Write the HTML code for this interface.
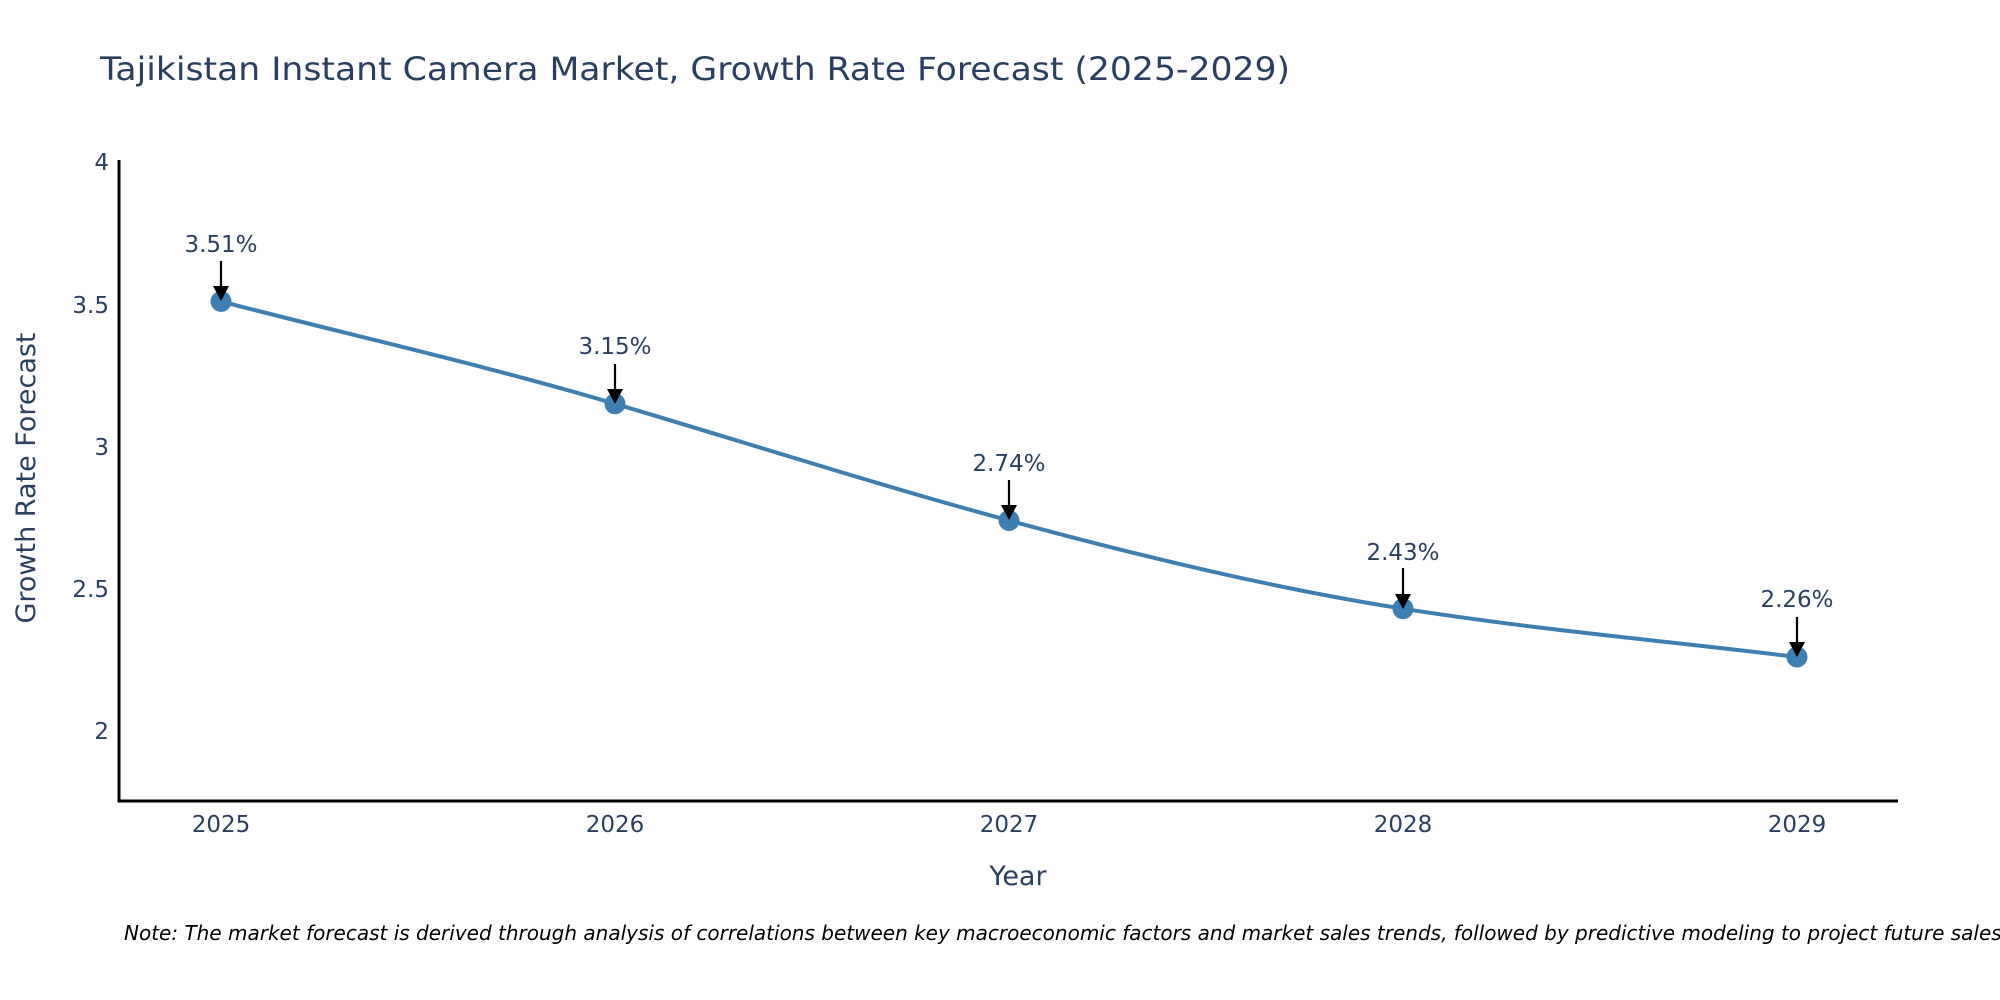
<!DOCTYPE html>
<html><head><meta charset="utf-8"><style>
html,body{margin:0;padding:0;background:#fff;}
svg{display:block;font-family:"DejaVu Sans","Liberation Sans",sans-serif;}
</style></head><body>
<svg width="2000" height="1000" viewBox="0 0 2000 1000" xmlns="http://www.w3.org/2000/svg">
<rect width="2000" height="1000" fill="#fff"/>
<text x="100" y="80" font-size="32" fill="#2a3f5f" textLength="1190" lengthAdjust="spacingAndGlyphs">Tajikistan Instant Camera Market, Growth Rate Forecast (2025-2029)</text>
<!-- axes -->
<line x1="119" y1="160" x2="119" y2="802" stroke="#000" stroke-width="3"/>
<line x1="117.5" y1="801" x2="1898" y2="801" stroke="#000" stroke-width="3"/>
<!-- y ticks -->
<g font-size="23" fill="#2a3f5f" text-anchor="end">
<text x="109" y="170">4</text>
<text x="109" y="313">3.5</text>
<text x="109" y="455">3</text>
<text x="109" y="597">2.5</text>
<text x="109" y="739">2</text>
</g>
<g font-size="23" fill="#2a3f5f" text-anchor="middle">
<text x="221" y="832">2025</text>
<text x="615" y="832">2026</text>
<text x="1009" y="832">2027</text>
<text x="1403" y="832">2028</text>
<text x="1797" y="832">2029</text>
</g>
<text x="1018" y="885" font-size="27" fill="#2a3f5f" text-anchor="middle">Year</text>
<text transform="translate(35,478) rotate(-90)" font-size="27" fill="#2a3f5f" text-anchor="middle">Growth Rate Forecast</text>
<!-- line -->
<path d="M221,301.4 C352,335.5 484,365 615,403.8 C746,442.6 878,485 1009,520.5 C1140,556 1272,588 1403,608.7 C1534,629.4 1666,641 1797,657" fill="none" stroke="#3e7fb1" stroke-width="4"/>
<g fill="#3e7fb1">
<circle cx="221" cy="301.4" r="10.5"/>
<circle cx="615" cy="403.8" r="10.5"/>
<circle cx="1009" cy="520.5" r="10.5"/>
<circle cx="1403" cy="608.7" r="10.5"/>
<circle cx="1797" cy="657" r="10.5"/>
</g>
<!-- annotations -->
<g stroke="#000" stroke-width="2.2">
<line x1="221" y1="261" x2="221" y2="290"/>
<line x1="615" y1="364" x2="615" y2="392"/>
<line x1="1009" y1="480" x2="1009" y2="509"/>
<line x1="1403" y1="568" x2="1403" y2="597"/>
<line x1="1797" y1="617" x2="1797" y2="645"/>
</g>
<g fill="#000">
<path d="M213,286 L229,286 L221,301 Z"/>
<path d="M607,389 L623,389 L615,404 Z"/>
<path d="M1001,505 L1017,505 L1009,520 Z"/>
<path d="M1395,594 L1411,594 L1403,609 Z"/>
<path d="M1789,642 L1805,642 L1797,657 Z"/>
</g>
<g font-size="23" fill="#2a3f5f" text-anchor="middle">
<text x="221" y="252">3.51%</text>
<text x="615" y="354">3.15%</text>
<text x="1009" y="471">2.74%</text>
<text x="1403" y="560">2.43%</text>
<text x="1797" y="607">2.26%</text>
</g>
<text x="124" y="940" font-size="20" font-style="italic" fill="#000">Note: The market forecast is derived through analysis of correlations between key macroeconomic factors and market sales trends, followed by predictive modeling to project future sales.</text>
</svg>
</body></html>
